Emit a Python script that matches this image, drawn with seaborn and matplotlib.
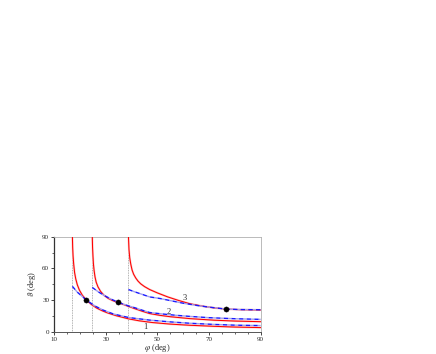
import numpy as np
import matplotlib
matplotlib.use('Agg')
import matplotlib.pyplot as plt
from matplotlib.ticker import MultipleLocator
import seaborn as sns

# red (solid) curves: phi (deg), theta (deg)
red1_phi = [17.1, 17.2, 17.35, 17.6, 17.95, 18.4, 19.0, 19.8, 20.9, 22.5, 24.5, 26.5, 28.5, 30.5, 34.0, 38.8, 43.0, 48.0, 55.0, 62.5, 72.0, 80.0, 90.0]
red1_theta = [90, 80, 72, 64, 56, 50, 44.5, 39.5, 34.8, 30, 25.7, 22.4, 20, 18, 15.2, 12.2, 10.3, 8.7, 7.2, 6.1, 5.1, 4.4, 3.9]
red2_phi = [24.8, 24.9, 25.05, 25.25, 25.5, 25.85, 26.3, 27.0, 28.0, 29.3, 31.0, 32.8, 34.9, 38.8, 41.3, 44.0, 47.0, 51.0, 55.0, 62.6, 72.0, 80.0, 90.0]
red2_theta = [90, 80, 72, 64, 58, 52, 47, 42.5, 38.3, 34.6, 31.5, 29.4, 27.6, 24, 21.8, 19.5, 17.2, 15.5, 14.2, 12.4, 10.9, 10.1, 9.5]
red3_phi = [38.8, 39.0, 39.3, 39.7, 40.2, 40.8, 41.6, 42.5, 43.5, 45.0, 47.0, 50.0, 54.0, 58.0, 62.6, 68.0, 72.0, 76.4, 82.0, 90.0]
red3_theta = [90, 78, 70, 64, 58.5, 54.5, 51, 48, 45.5, 42.8, 40, 36.8, 33, 29.8, 26.5, 24, 22.6, 21.5, 20.9, 20.6]

# blue (dashed) curves
blue1_phi = [17.1, 19.0, 22.5, 25.9, 29.0, 33.0, 38.8, 41.3, 47.0, 55.0, 62.6, 72.0, 80.0, 90.0]
blue1_theta = [43, 37.5, 30, 24.3, 20.5, 16.8, 13.5, 12.7, 11, 9.3, 8, 6.9, 6.2, 5.8]
blue2_phi = [24.8, 27.0, 29.1, 32.0, 34.9, 38.8, 41.3, 44.0, 47.0, 52.0, 57.0, 62.6, 70.0, 80.0, 90.0]
blue2_theta = [42, 38, 34.8, 31, 27.8, 24.5, 22.7, 20.5, 18.2, 16.8, 15.6, 14.5, 13.3, 12.3, 11.7]
blue3_phi = [38.8, 41.0, 44.0, 47.0, 51.0, 55.0, 60.0, 65.0, 70.0, 76.4, 82.0, 90.0]
blue3_theta = [40, 38, 35.5, 33, 31.5, 29.5, 27, 25, 23.3, 21.5, 21, 20.8]

# crossing points, asymptotes and curve numbers
dot_phi = [22.5, 34.9, 76.4]
dot_theta = [30, 27.8, 21.5]
asym_phi = [17.1, 24.8, 38.8]
lab_text = ['1', '2', '3']
lab_phi = [45.5, 54.2, 60.7]
lab_theta = [4.5, 19.0, 31.5]

sns.set_style('ticks')
plt.rcParams['font.family'] = ['Liberation Serif', 'DejaVu Serif']
plt.rcParams['mathtext.fontset'] = 'stix'

fig = plt.figure(figsize=(4.36, 3.54), dpi=100)
ax = fig.add_axes([0.124, 0.063, 0.474, 0.268])

for xv in asym_phi:
    ax.axvline(xv, color='#999999', lw=0.6, ls=(0, (1, 1)), zorder=1)

reds = [(red1_phi, red1_theta), (red2_phi, red2_theta), (red3_phi, red3_theta)]
blues = [(blue1_phi, blue1_theta), (blue2_phi, blue2_theta), (blue3_phi, blue3_theta)]

for phi, theta in reds:
    sns.lineplot(x=phi, y=theta, ax=ax, sort=False, estimator=None,
                 color='#f9caca', lw=1.5, zorder=2)
    sns.lineplot(x=phi, y=theta, ax=ax, sort=False, estimator=None,
                 color='red', lw=0.75, zorder=3)

for phi, theta in blues:
    sns.lineplot(x=phi, y=theta, ax=ax, sort=False, estimator=None,
                 color='#1a1aff', lw=1.0, zorder=4)
    ln = ax.get_lines()[-1]
    ln.set_linestyle((0, (3, 2.5)))
    ln.set_gapcolor('#a0a0ee')

sns.scatterplot(x=dot_phi, y=dot_theta, ax=ax, color='black', s=14,
                edgecolor='black', zorder=5)

for t, xp, yp in zip(lab_text, lab_phi, lab_theta):
    ax.text(xp, yp, t, fontsize=6, ha='center', va='center')

ax.set_xlim(10, 90)
ax.set_ylim(0, 90)
ax.set_xticks([10, 30, 50, 70, 90])
ax.set_yticks([0, 30, 60, 90])
ax.xaxis.set_minor_locator(MultipleLocator(5))
ax.yaxis.set_minor_locator(MultipleLocator(15))
ax.tick_params(axis='both', which='major', labelsize=5, length=2, width=0.6, pad=1.5)
ax.tick_params(axis='both', which='minor', length=1.2, width=0.5)

ax.set_xlabel(r'$\varphi$ (deg)', fontsize=6, labelpad=0.5)
ax.set_ylabel(r'$\vartheta$ (deg)', fontsize=6, labelpad=3)

for side in ['top', 'right']:
    ax.spines[side].set_color('#b0b0b0')
    ax.spines[side].set_linewidth(0.6)
ax.spines['left'].set_color('#333333')
ax.spines['left'].set_linewidth(0.9)
ax.spines['bottom'].set_color('#555555')
ax.spines['bottom'].set_linewidth(0.7)

fig.savefig('out.png', dpi=100)
